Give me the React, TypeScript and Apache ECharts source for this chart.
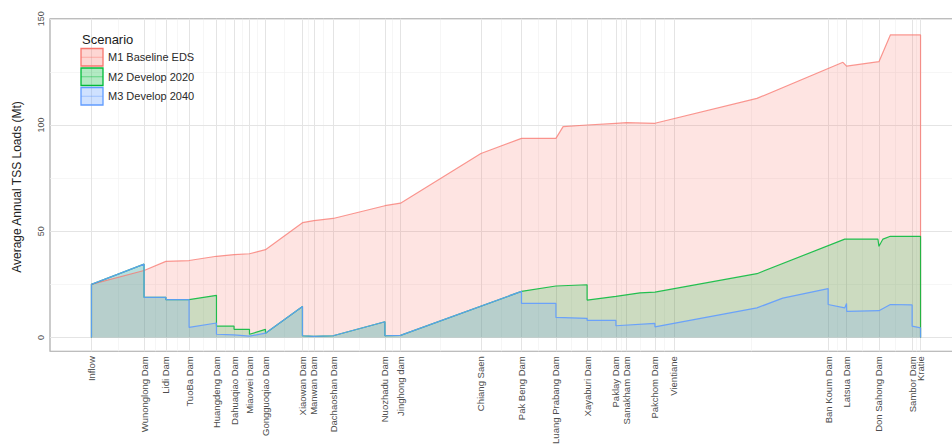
import React, { useEffect, useRef } from 'react';
import * as echarts from 'echarts';

// Stations along the river (x axis breaks)
const stationNames = [
  'Inflow', 'Wunonglong Dam', 'Lidi Dam', 'TuoBa Dam', 'Huangdeng Dam', 'Dahuaqiao Dam',
  'Miaowei Dam', 'Gongguoqiao Dam', 'Xiaowan Dam', 'Manwan Dam', 'Dachaoshan Dam',
  'Nuozhadu Dam', 'Jinghong dam', 'Chiang Saen', 'Pak Beng Dam', 'Luang Prabang Dam',
  'Xayaburi Dam', 'Paklay Dam', 'Sanakham Dam', 'Pakchom Dam', 'Vientiane',
  'Ban Koum Dam', 'Latsua Dam', 'Don Sahong Dam', 'Sambor Dam', 'Kratie',
];
const stationKm = [
  0, 263, 372, 488, 625, 713, 790, 870, 1055, 1112, 1208, 1467, 1545, 1947, 2150,
  2322, 2478, 2622, 2675, 2817, 2912, 3683, 3775, 3937, 4103, 4145,
];

const yBreaks = [0, 50, 100, 150];
const yMinorBreaks = [25, 75, 125];

const seriesNames = ['M1 Baseline EDS', 'M2 Develop 2020', 'M3 Develop 2040'];
const seriesColors = ['#F8766D', '#00BA38', '#619CFF'];

// M1 Baseline EDS
const m1Km = [0, 0, 263, 372, 488, 625, 713, 790, 870, 1055, 1112, 1208, 1467, 1545, 1947, 2150, 2322, 2358, 2478, 2622, 2675, 2817, 3327, 3757, 3775, 3937, 3994, 4145, 4145];
const m1Load = [0, 25, 31.5, 35.8, 36.2, 38.2, 39, 39.4, 41.3, 54, 55, 56, 62, 63.2, 86.6, 93.7, 93.7, 99.2, 100, 100.8, 101.1, 100.8, 112.5, 129.5, 127.7, 129.8, 142.4, 142.4, 0];

// M2 Develop 2020
const m2Km = [0, 0, 263, 263, 372, 372, 488, 625, 625, 713, 713, 790, 790, 870, 870, 1055, 1055, 1112, 1208, 1467, 1467, 1545, 2150, 2322, 2478, 2478, 2622, 2742, 2817, 3327, 3766, 3932, 3937, 3957, 3994, 4145, 4145];
const m2Load = [0, 25, 34.5, 18.9, 18.9, 17.8, 17.8, 19.8, 5.3, 5.3, 3.8, 3.8, 1.5, 3.8, 2.0, 14.6, 0.8, 0.5, 0.8, 7.4, 0.8, 1.0, 21.7, 24.2, 24.8, 17.6, 19.3, 21.0, 21.3, 30, 46.3, 46.3, 42.9, 46.3, 47.6, 47.6, 0];

// M3 Develop 2040
const m3Km = [0, 0, 263, 263, 372, 372, 488, 488, 625, 625, 713, 790, 870, 1055, 1055, 1112, 1208, 1467, 1467, 1545, 2150, 2150, 2322, 2322, 2478, 2478, 2622, 2622, 2817, 2817, 3327, 3456, 3683, 3683, 3766, 3775, 3776, 3937, 3994, 4103, 4103, 4145, 4145];
const m3Load = [0, 25, 34.5, 18.9, 18.9, 17.8, 17.8, 4.7, 6.8, 1.5, 1.2, 0.6, 2.0, 14.6, 0.8, 0.5, 0.8, 7.4, 0.8, 1.0, 21.7, 16.0, 16.0, 9.4, 9.0, 8.0, 8.0, 5.5, 6.6, 5.0, 13.9, 18.5, 23, 15.5, 13.9, 16.0, 12.3, 12.6, 15.5, 15.3, 5.3, 4.5, 0];

const FONT = 'Liberation Sans, Arial, Helvetica, sans-serif';

function hexToRgba(hex: string, a: number) {
  const n = parseInt(hex.slice(1), 16);
  return `rgba(${(n >> 16) & 255},${(n >> 8) & 255},${n & 255},${a})`;
}

export default function App() {
  const ref = useRef<HTMLDivElement>(null);

  useEffect(() => {
    if (!ref.current) return;
    const chart = echarts.init(ref.current, null, { renderer: 'svg' });

    const span = stationKm[stationKm.length - 1] - stationKm[0];
    const xMin = stationKm[0] - span * 0.05;
    const xMax = stationKm[stationKm.length - 1] + span * 0.05;

    const nameByKm: Record<string, string> = {};
    stationKm.forEach((k, i) => { nameByKm[String(k)] = stationNames[i]; });
    // an empty trailing label keeps ECharts from hiding an overlapping end label
    const labelValues = [...stationKm, xMax];

    const xMinor: number[] = [];
    for (let i = 0; i < stationKm.length - 1; i++) xMinor.push((stationKm[i] + stationKm[i + 1]) / 2);

    const gridLines: any[] = [
      ...xMinor.map((v) => ({ xAxis: v, lineStyle: { color: '#f2f2f2', width: 0.7, type: 'solid' } })),
      ...yMinorBreaks.map((v) => ({ yAxis: v, lineStyle: { color: '#f2f2f2', width: 0.7, type: 'solid' } })),
      ...stationKm.map((v) => ({ xAxis: v, lineStyle: { color: '#e4e4e4', width: 1, type: 'solid' } })),
      ...yBreaks.map((v) => ({ yAxis: v, lineStyle: { color: '#e4e4e4', width: 1, type: 'solid' } })),
    ];

    const dataSets = [
      m1Km.map((k, i) => [k, m1Load[i]]),
      m2Km.map((k, i) => [k, m2Load[i]]),
      m3Km.map((k, i) => [k, m3Load[i]]),
    ];
    const lineOpacity = [0.75, 0.85, 0.9];

    const areaSeries = dataSets.map((d, i) => ({
      type: 'line',
      name: seriesNames[i],
      data: d,
      z: 3,
      showSymbol: false,
      symbol: 'none',
      silent: true,
      lineStyle: { color: seriesColors[i], width: 1.2, opacity: lineOpacity[i] },
      areaStyle: { color: hexToRgba(seriesColors[i], 0.28), origin: 0 },
      itemStyle: { color: seriesColors[i] },
      emphasis: { disabled: true },
    }));

    const legendGraphics: any[] = [
      {
        type: 'text', x: 82, y: 39, z: 100,
        style: { text: 'Scenario', fontSize: 13, fontFamily: FONT, fill: '#1a1a1a', verticalAlign: 'middle' },
      },
    ];
    seriesNames.forEach((n, i) => {
      const top = 48.5 + i * 19.5;
      const mid = top + 8.75;
      legendGraphics.push(
        {
          type: 'rect', z: 100,
          shape: { x: 81, y: top, width: 22, height: 17.5 },
          style: { fill: hexToRgba(seriesColors[i], 0.3), stroke: seriesColors[i], lineWidth: 1.3 },
        },
        {
          type: 'line', z: 100,
          shape: { x1: 81, y1: mid, x2: 103, y2: mid },
          style: { stroke: seriesColors[i], opacity: 0.45, lineWidth: 1 },
        },
        {
          type: 'text', x: 108, y: mid, z: 100,
          style: { text: n, fontSize: 11, fontFamily: FONT, fill: '#2a2a2a', verticalAlign: 'middle' },
        },
      );
    });
    legendGraphics.push({
      type: 'text', x: 17, y: 187, rotation: Math.PI / 2, z: 100,
      style: {
        text: 'Average Annual TSS Loads (Mt)', fontSize: 12, fontFamily: FONT,
        fill: '#222', align: 'center', verticalAlign: 'middle',
      },
    });

    const option: any = {
      animation: false,
      backgroundColor: '#ffffff',
      grid: {
        left: 50, top: 18.75, width: 912, height: 332.5,
        show: true, backgroundColor: '#ffffff', borderColor: '#a8a8a8', borderWidth: 1.2,
        containLabel: false, outerBoundsMode: 'none',
      },
      xAxis: {
        type: 'value', min: xMin, max: xMax,
        axisLine: { show: false },
        splitLine: { show: false },
        axisTick: { show: true, customValues: stationKm, length: 4, lineStyle: { color: '#888', width: 1 } },
        axisLabel: {
          show: true, customValues: labelValues, rotate: 90, margin: 5,
          hideOverlap: false,
          fontSize: 9.5, fontFamily: FONT, color: '#4d4d4d',
          formatter: (v: number) => nameByKm[String(v)] ?? '',
        },
      },
      yAxis: {
        type: 'value', min: -6.5, max: 150,
        axisLine: { show: false },
        splitLine: { show: false },
        axisTick: { show: true, customValues: yBreaks, length: 4, lineStyle: { color: '#888', width: 1 } },
        axisLabel: {
          show: true, customValues: yBreaks, rotate: 90, margin: 5,
          fontSize: 9, fontFamily: FONT, color: '#4d4d4d',
        },
      },
      series: [
        {
          type: 'line', name: 'grid', data: [[0, 0]], z: 1, silent: true,
          showSymbol: false, symbol: 'none', lineStyle: { width: 0, opacity: 0 },
          markLine: {
            z: 1, silent: true, symbol: ['none', 'none'], label: { show: false },
            emphasis: { disabled: true }, animation: false,
            data: gridLines,
          },
        },
        ...areaSeries,
      ],
      graphic: legendGraphics,
    };

    chart.setOption(option);
    return () => chart.dispose();
  }, []);

  return (
    <div
      ref={ref}
      style={{ position: 'fixed', left: 0, top: 0, width: 952, height: 444, background: '#fff' }}
    />
  );
}
